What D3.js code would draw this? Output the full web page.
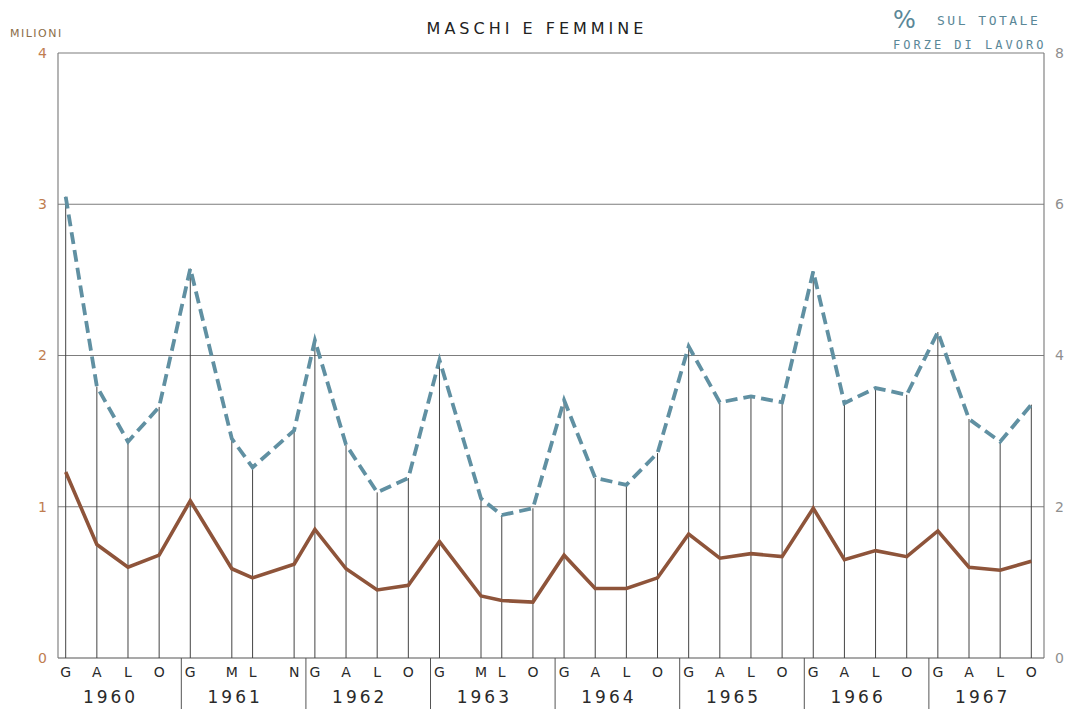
<!DOCTYPE html>
<html>
<head>
<meta charset="utf-8">
<script src="https://cdn.jsdelivr.net/npm/d3@7"></script>
<style>
  html, body { margin: 0; padding: 0; background: #ffffff; }
  svg { display: block; }
</style>
</head>
<body>
<svg id="chart" width="1070" height="709"></svg>
<script>
// ---- DATA ----
const yearLabels = [1960, 1961, 1962, 1963, 1964, 1965, 1966, 1967];
const pointYears = [1960,1960,1960,1960, 1961,1961,1961,1961, 1962,1962,1962,1962, 1963,1963,1963,1963,
                    1964,1964,1964,1964, 1965,1965,1965,1965, 1966,1966,1966,1966, 1967,1967,1967,1967];
const pointMonths = [1,4,7,10, 1,5,7,11, 1,4,7,10, 1,5,7,10, 1,4,7,10, 1,4,7,10, 1,4,7,10, 1,4,7,10];
const monthLabels = ["G","A","L","O", "G","M","L","N", "G","A","L","O", "G","M","L","O",
                     "G","A","L","O", "G","A","L","O", "G","A","L","O", "G","A","L","O"];
// unemployed, millions (left axis) - solid line
const millions = [1.23,0.75,0.60,0.68, 1.04,0.59,0.53,0.62, 0.85,0.59,0.45,0.48, 0.77,0.41,0.38,0.37,
                  0.68,0.46,0.46,0.53, 0.82,0.66,0.69,0.67, 0.99,0.65,0.71,0.67, 0.84,0.60,0.58,0.64];
// % of total labour force (right axis) - dashed line
const percent = [6.10,3.59,2.86,3.32, 5.15,2.90,2.52,3.01, 4.20,2.82,2.19,2.38, 3.94,2.11,1.89,1.98,
                 3.41,2.38,2.29,2.71, 4.12,3.38,3.46,3.38, 5.11,3.37,3.57,3.48, 4.31,3.16,2.86,3.35];
const leftTicks = [0, 1, 2, 3, 4];
const rightTicks = [0, 2, 4, 6, 8];
const titleText = "MASCHI E FEMMINE";
const leftUnit = "MILIONI";
const rightUnit1 = "SUL TOTALE";
const rightUnit2 = "FORZE DI LAVORO";

// ---- LAYOUT ----
const svg = d3.select("#chart");
const plotL = 58, plotR = 1044, plotT = 53, plotB = 658;
const x = d3.scaleLinear().domain([1960, 1967.75]).range([65.7, 1031.3]);
const yL = d3.scaleLinear().domain([0, 4]).range([plotB, plotT]);
const yR = d3.scaleLinear().domain([0, 8]).range([plotB, plotT]);

const pts = pointYears.map((yr, i) => ({
  t: yr + (pointMonths[i] - 1) / 12,
  lab: monthLabels[i],
  m: millions[i],
  p: percent[i]
}));

const gridColor = "#7d7d7d";
const dashColor = "#6090a2";
const solidColor = "#8e543a";
const fontFam = "'DejaVu Sans', 'Noto Sans', sans-serif";

// horizontal gridlines
svg.append("g").selectAll("line").data(leftTicks.filter(d => d > 0)).join("line")
  .attr("x1", plotL).attr("x2", plotR)
  .attr("y1", d => yL(d)).attr("y2", d => yL(d))
  .attr("stroke", gridColor).attr("stroke-width", 1.1);

// baseline
svg.append("line").attr("x1", plotL).attr("x2", plotR)
  .attr("y1", plotB).attr("y2", plotB)
  .attr("stroke", "#555").attr("stroke-width", 1.2);

// left and right frame
svg.append("line").attr("x1", plotL).attr("x2", plotL).attr("y1", plotT).attr("y2", plotB)
  .attr("stroke", "#777").attr("stroke-width", 1.1);
svg.append("line").attr("x1", plotR).attr("x2", plotR).attr("y1", plotT).attr("y2", plotB)
  .attr("stroke", "#777").attr("stroke-width", 1.1);

// drop lines
svg.append("g").selectAll("line").data(pts).join("line")
  .attr("x1", d => x(d.t)).attr("x2", d => x(d.t))
  .attr("y1", plotB).attr("y2", d => yR(d.p))
  .attr("stroke", "#444").attr("stroke-width", 1);

// year separators below baseline
svg.append("g").selectAll("line").data(yearLabels.slice(1)).join("line")
  .attr("x1", d => x(d - 0.072)).attr("x2", d => x(d - 0.072))
  .attr("y1", plotB).attr("y2", 709)
  .attr("stroke", "#555").attr("stroke-width", 1);

// left axis
const axL = svg.append("g").attr("transform", `translate(${plotL},0)`)
  .call(d3.axisLeft(yL).tickValues(leftTicks).tickSize(0).tickPadding(11).tickFormat(d3.format("d")));
axL.select(".domain").remove();
axL.selectAll("text").attr("fill", "#c07d50").style("font-family", fontFam).style("font-size", "14px");

// right axis
const axR = svg.append("g").attr("transform", `translate(${plotR},0)`)
  .call(d3.axisRight(yR).tickValues(rightTicks).tickSize(0).tickPadding(11).tickFormat(d3.format("d")));
axR.select(".domain").remove();
axR.selectAll("text").attr("fill", "#8f8f8f").style("font-family", fontFam).style("font-size", "14px");

// lines
const lineP = d3.line().x(d => x(d.t)).y(d => yR(d.p));
const lineM = d3.line().x(d => x(d.t)).y(d => yL(d.m));
svg.append("path").datum(pts).attr("d", lineM)
  .attr("fill", "none").attr("stroke", solidColor).attr("stroke-width", 3.6)
  .attr("stroke-linejoin", "miter");
svg.append("path").datum(pts).attr("d", lineP)
  .attr("fill", "none").attr("stroke", dashColor).attr("stroke-width", 3.8)
  .attr("stroke-dasharray", "12,6").attr("stroke-linejoin", "miter");

// month labels
svg.append("g").selectAll("text").data(pts).join("text")
  .attr("x", d => x(d.t)).attr("y", 677)
  .attr("text-anchor", "middle")
  .style("font-family", fontFam).style("font-size", "14px").attr("fill", "#2a2a2a")
  .text(d => d.lab);

// year labels
svg.append("g").selectAll("text").data(yearLabels).join("text")
  .attr("x", d => x(d + 0.36)).attr("y", 703)
  .attr("text-anchor", "middle")
  .style("font-family", fontFam).style("font-size", "17px").style("letter-spacing", "3px")
  .attr("fill", "#2a2a2a")
  .text(d => d);

// title
svg.append("text").attr("x", 537).attr("y", 34).attr("text-anchor", "middle")
  .style("font-family", fontFam).style("font-size", "16px").style("letter-spacing", "4px")
  .attr("fill", "#222").text(titleText);

// left unit
svg.append("text").attr("x", 10).attr("y", 37)
  .style("font-family", fontFam).style("font-size", "11px").style("letter-spacing", "1.5px")
  .attr("fill", "#8b6d48").text(leftUnit);

// right unit
svg.append("text").attr("x", 893).attr("y", 28)
  .style("font-family", fontFam).style("font-size", "24px")
  .attr("fill", "#5a8797").text("%");
svg.append("text").attr("x", 937).attr("y", 25)
  .style("font-family", "'DejaVu Sans Mono', monospace").style("font-size", "13px").style("letter-spacing", "2.5px")
  .attr("fill", "#5a8797").text(rightUnit1);
svg.append("text").attr("x", 893).attr("y", 49)
  .style("font-family", "'DejaVu Sans Mono', monospace").style("font-size", "12px").style("letter-spacing", "3px")
  .attr("fill", "#5a8797").text(rightUnit2);
</script>
</body>
</html>
